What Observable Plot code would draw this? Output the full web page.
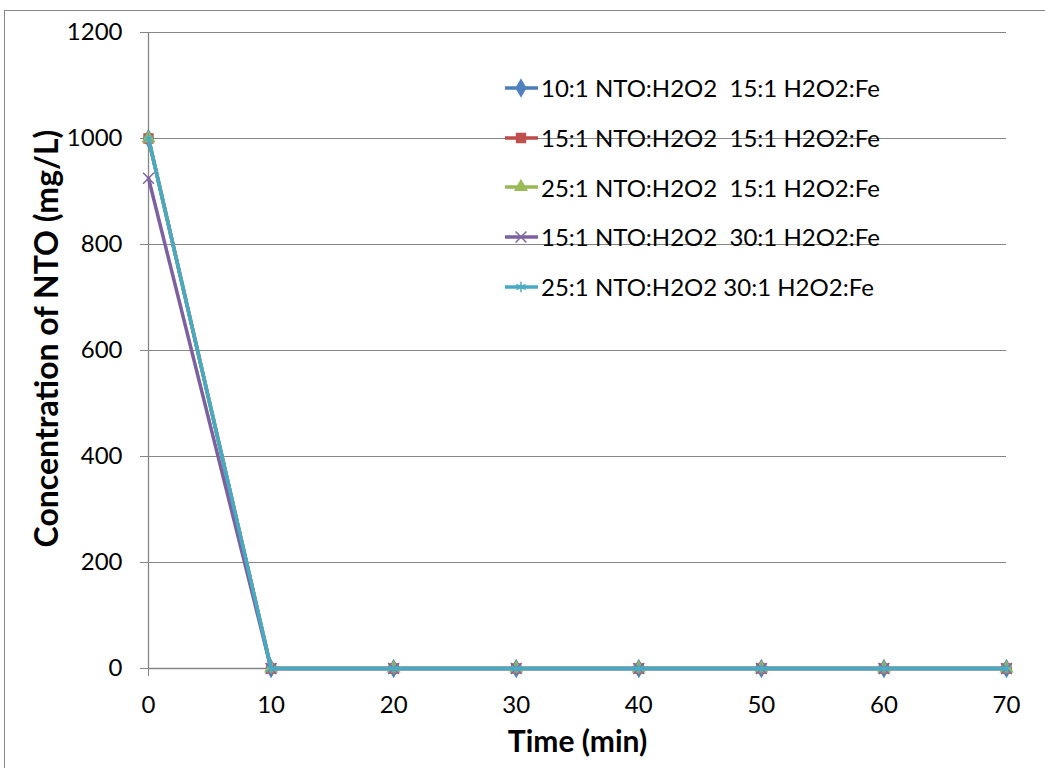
<!DOCTYPE html>
<html>
<head>
<meta charset="utf-8">
<script src="https://cdn.jsdelivr.net/npm/d3@7"></script>
<script src="https://cdn.jsdelivr.net/npm/@observablehq/plot@0.6"></script>
<style>
  html, body { margin: 0; padding: 0; background: #fff; }
  #wrap { position: relative; width: 1045px; height: 768px; overflow: hidden; font-family: Lato, "Open Sans", sans-serif; }
  #frame { position: absolute; left: 4px; top: 10px; width: 1100px; height: 800px; border: 1px solid #868686; box-sizing: border-box; pointer-events: none; }
  #legend { position: absolute; left: 503px; top: 63px; }
  .row { display: flex; align-items: center; height: 49.7px; font-size: 24px; color: #000; white-space: pre; }
  .row svg { margin-right: 2px; }
</style>
</head>
<body>
<div id="wrap"><div id="frame"></div><div id="legend"></div></div>
<script>
const times = [0, 10, 20, 30, 40, 50, 60, 70];
const seriesNames = [
  "10:1 NTO:H2O2  15:1 H2O2:Fe",
  "15:1 NTO:H2O2  15:1 H2O2:Fe",
  "25:1 NTO:H2O2  15:1 H2O2:Fe",
  "15:1 NTO:H2O2  30:1 H2O2:Fe",
  "25:1 NTO:H2O2 30:1 H2O2:Fe"
];
const s1 = [1000, 0, 0, 0, 0, 0, 0, 0];
const s2 = [1000, 0, 0, 0, 0, 0, 0, 0];
const s3 = [1000, 0, 0, 0, 0, 0, 0, 0];
const s4 = [925, 0, 0, 0, 0, 0, 0, 0];
const s5 = [1000, 0, 0, 0, 0, 0, 0, 0];
const seriesValues = [s1, s2, s3, s4, s5];
const lineColors = ["#4A7EBB", "#BE4B48", "#98B954", "#7D60A0", "#46AAC5"];
const markerColors = ["#4F81BD", "#C0504D", "#9BBB59", "#8064A2", "#4BACC6"];
const symbols = ["diamond", "square", "triangle", "times", "asterisk"];
const symbolSizes = [5, 5, 4.3, 5, 5];
const xTicks = [0, 10, 20, 30, 40, 50, 60, 70];
const yTicks = [0, 200, 400, 600, 800, 1000, 1200];

const gray = "#868686";
const marks = [
  Plot.gridY(yTicks.filter(d => d > 0), {stroke: gray, strokeOpacity: 1, strokeWidth: 1}),
  Plot.ruleY([0], {stroke: gray, strokeWidth: 1.3}),
  Plot.ruleX([0], {stroke: gray, strokeWidth: 1.3}),
  Plot.axisY({ticks: yTicks, tickSize: 8, tickPadding: 18, stroke: gray, fill: "#000", fontSize: 24, label: null, tickFormat: d => String(d)}),
  Plot.axisX({ticks: xTicks, tickSize: 8, tickPadding: 19, stroke: gray, fill: "#000", fontSize: 24, label: null, tickFormat: d => String(d)}),
  Plot.text(["Time (min)"], {frameAnchor: "bottom", dy: 83, fontSize: 30, fontWeight: "bold", fill: "#000", textAnchor: "middle"}),
  Plot.text(["Concentration of NTO (mg/L)"], {frameAnchor: "left", dx: -101, dy: -12, rotate: -90, textAnchor: "middle", fontSize: 32, fontWeight: "bold", fill: "#000"})
];
seriesValues.forEach((vals, i) => {
  const data = times.map((t, j) => ({t, v: vals[j]}));
  marks.push(Plot.line(data, {x: "t", y: "v", stroke: lineColors[i], strokeWidth: 3.5}));
  marks.push(Plot.dot(data, {x: "t", y: "v", symbol: () => symbols[i], r: symbolSizes[i], fill: markerColors[i], stroke: markerColors[i], strokeWidth: 1.5}));
});

const chart = Plot.plot({
  width: 1045, height: 768,
  marginLeft: 148, marginRight: 39, marginTop: 32, marginBottom: 100,
  x: {domain: [0, 70]},
  y: {domain: [0, 1200]},
  style: {fontFamily: "Lato, 'Open Sans', sans-serif", background: "transparent"},
  marks
});
chart.style.position = "absolute";
chart.style.left = "0px";
chart.style.top = "0px";
document.getElementById("wrap").insertBefore(chart, document.getElementById("frame"));

const symMap = {diamond: d3.symbolDiamond, square: d3.symbolSquare, triangle: d3.symbolTriangle, times: d3.symbolTimes, asterisk: d3.symbolAsterisk};
const legend = d3.select("#legend");
seriesNames.forEach((name, i) => {
  const row = legend.append("div").attr("class", "row");
  const svg = row.append("svg").attr("width", 36).attr("height", 20);
  svg.append("line").attr("x1", 2).attr("x2", 35).attr("y1", 10).attr("y2", 10)
    .attr("stroke", lineColors[i]).attr("stroke-width", 3.5);
  svg.append("path").attr("transform", "translate(18,10)")
    .attr("d", d3.symbol(symMap[symbols[i]], Math.PI * symbolSizes[i] * symbolSizes[i])())
    .attr("fill", markerColors[i]).attr("stroke", markerColors[i]).attr("stroke-width", 1.5);
  row.append("span").text(name);
});
</script>
</body>
</html>
